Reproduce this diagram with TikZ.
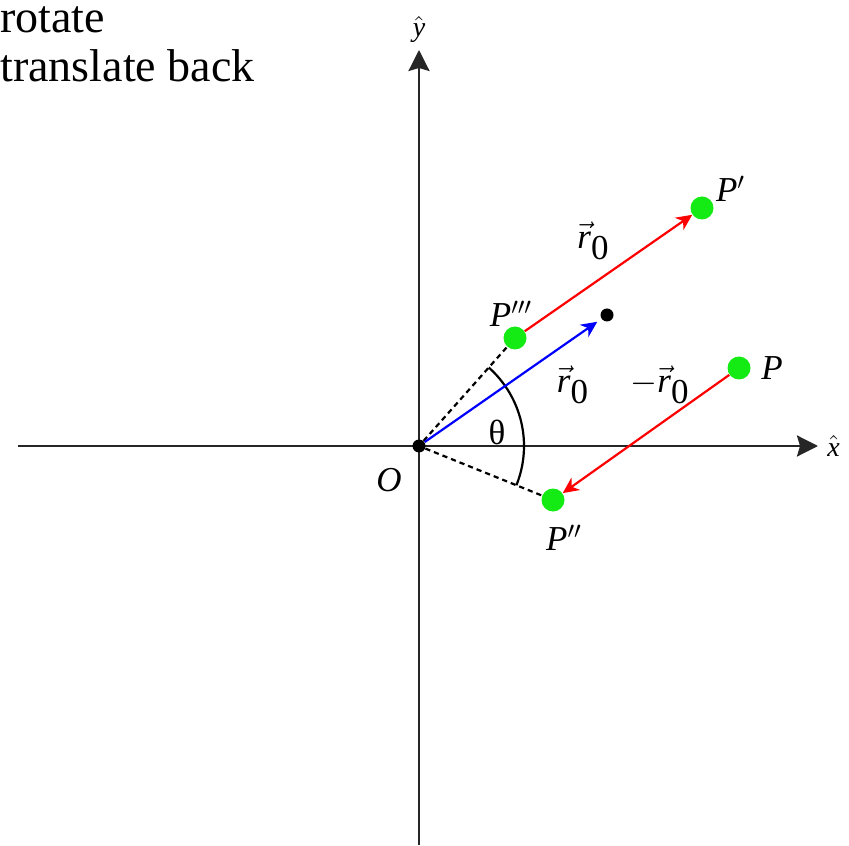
\documentclass[tikz,border=0pt]{standalone}
\usepackage{fontspec}
\setmainfont{LiberationSerif}[Extension=.ttf, UprightFont=*-Regular, BoldFont=*-Bold, ItalicFont=*-Italic, BoldItalicFont=*-BoldItalic]
\usetikzlibrary{positioning,arrows.meta}

\definecolor{ptgreen}{RGB}{20,235,20}

\begin{document}
\begin{tikzpicture}[x=0.5pt, y=0.5pt, font=\fontsize{17.5}{21}\selectfont,
    gpoint/.style={shape=circle, fill=ptgreen, minimum size=11.5pt, inner sep=0pt},
    blackdot/.style={shape=circle, fill=black, minimum size=6.5pt, inner sep=0pt},
    lbl/.style={inner sep=0pt},
    hatlbl/.style={inner sep=0pt, font=\fontsize{14}{17}\selectfont},
    steptext/.style={inner sep=0pt, anchor=base west, font=\fontsize{23}{27}\selectfont},
    axisline/.style={line width=1.3pt, black!85, -{Stealth[length=10.5pt,width=10.5pt,inset=1.5pt]}},
    vec/.style={line width=1.1pt, -{Stealth[length=8pt,width=7.5pt,inset=2.5pt]}},
    guide/.style={line width=1.1pt, dash pattern=on 2.6pt off 2pt}]
    \useasboundingbox (-419,-399) rectangle (430,446);

    \node (rotlbl) [steptext] at (-419,413) {rotate};
    \node (translbl) [steptext] at (-419,364) {translate back};

    % axes
    \coordinate (xl) at (-401,0);
    \coordinate (xr) at (399,0);
    \coordinate (yb) at (0,-399);
    \coordinate (yt) at (0,396);
    \draw [axisline] (xl) -- (xr);
    \draw [axisline] (yb) -- (yt);
    \node (xhat) [hatlbl, right=4.5pt of xr] {$\hat{\textit{x}}$};
    \node (yhat) [hatlbl, above=3.5pt of yt] {$\hat{\textit{y}}$};

    % points
    \node (O) [blackdot] at (0,0) {};
    \node (P) [gpoint] at (320,78) {};
    \node (P2) [gpoint] at (134,-54) {};
    \node (P1) [gpoint] at (283,238) {};
    \node (P3) [gpoint] at (96,108) {};
    \node (r0tip) [blackdot] at (188,131) {};

    \node (Olbl) [lbl, below left=8.5pt and 6pt of O] {\textit{O}};
    \node (Plbl) [lbl, right=5pt of P] {\textit{P}};
    \node (P1lbl) [lbl, above right=-1.2pt and 2.6pt of P1] {\textit{P}$'$};
    \node (P2lbl) [lbl, below=6.25pt of P2, xshift=5.5pt] {\textit{P}$''$};
    \node (P3lbl) [lbl, above=-0.5pt of P3, xshift=-2pt] {\textit{P}$'''$};

    \draw [guide] (O) -- (P3);
    \draw [guide] (O) -- (P2);
    \draw [line width=1.1pt] (-21.95:105) arc [start angle=-21.95, end angle=48.37, radius=105];
    \node (theta) [lbl] at (78,14) {θ};

    \draw [vec, red] (P3) -- node [lbl, above=6pt, xshift=-7.5pt, black] (r0up) {$\vec{\textit{r}}_{\textup{0}}$} (P1);
    \draw [vec, blue, shorten >=2.5pt] (O) -- node [lbl, pos=0.82, below=12pt, xshift=1.7pt, black] (r0mid) {$\vec{\textit{r}}_{\textup{0}}$} (r0tip);
    \node (mr0) [lbl, right=20pt of r0mid] {$-\vec{\textit{r}}_{\textup{0}}$};
    \draw [vec, red] (P) -- (P2);
  \end{tikzpicture}
\end{document}
